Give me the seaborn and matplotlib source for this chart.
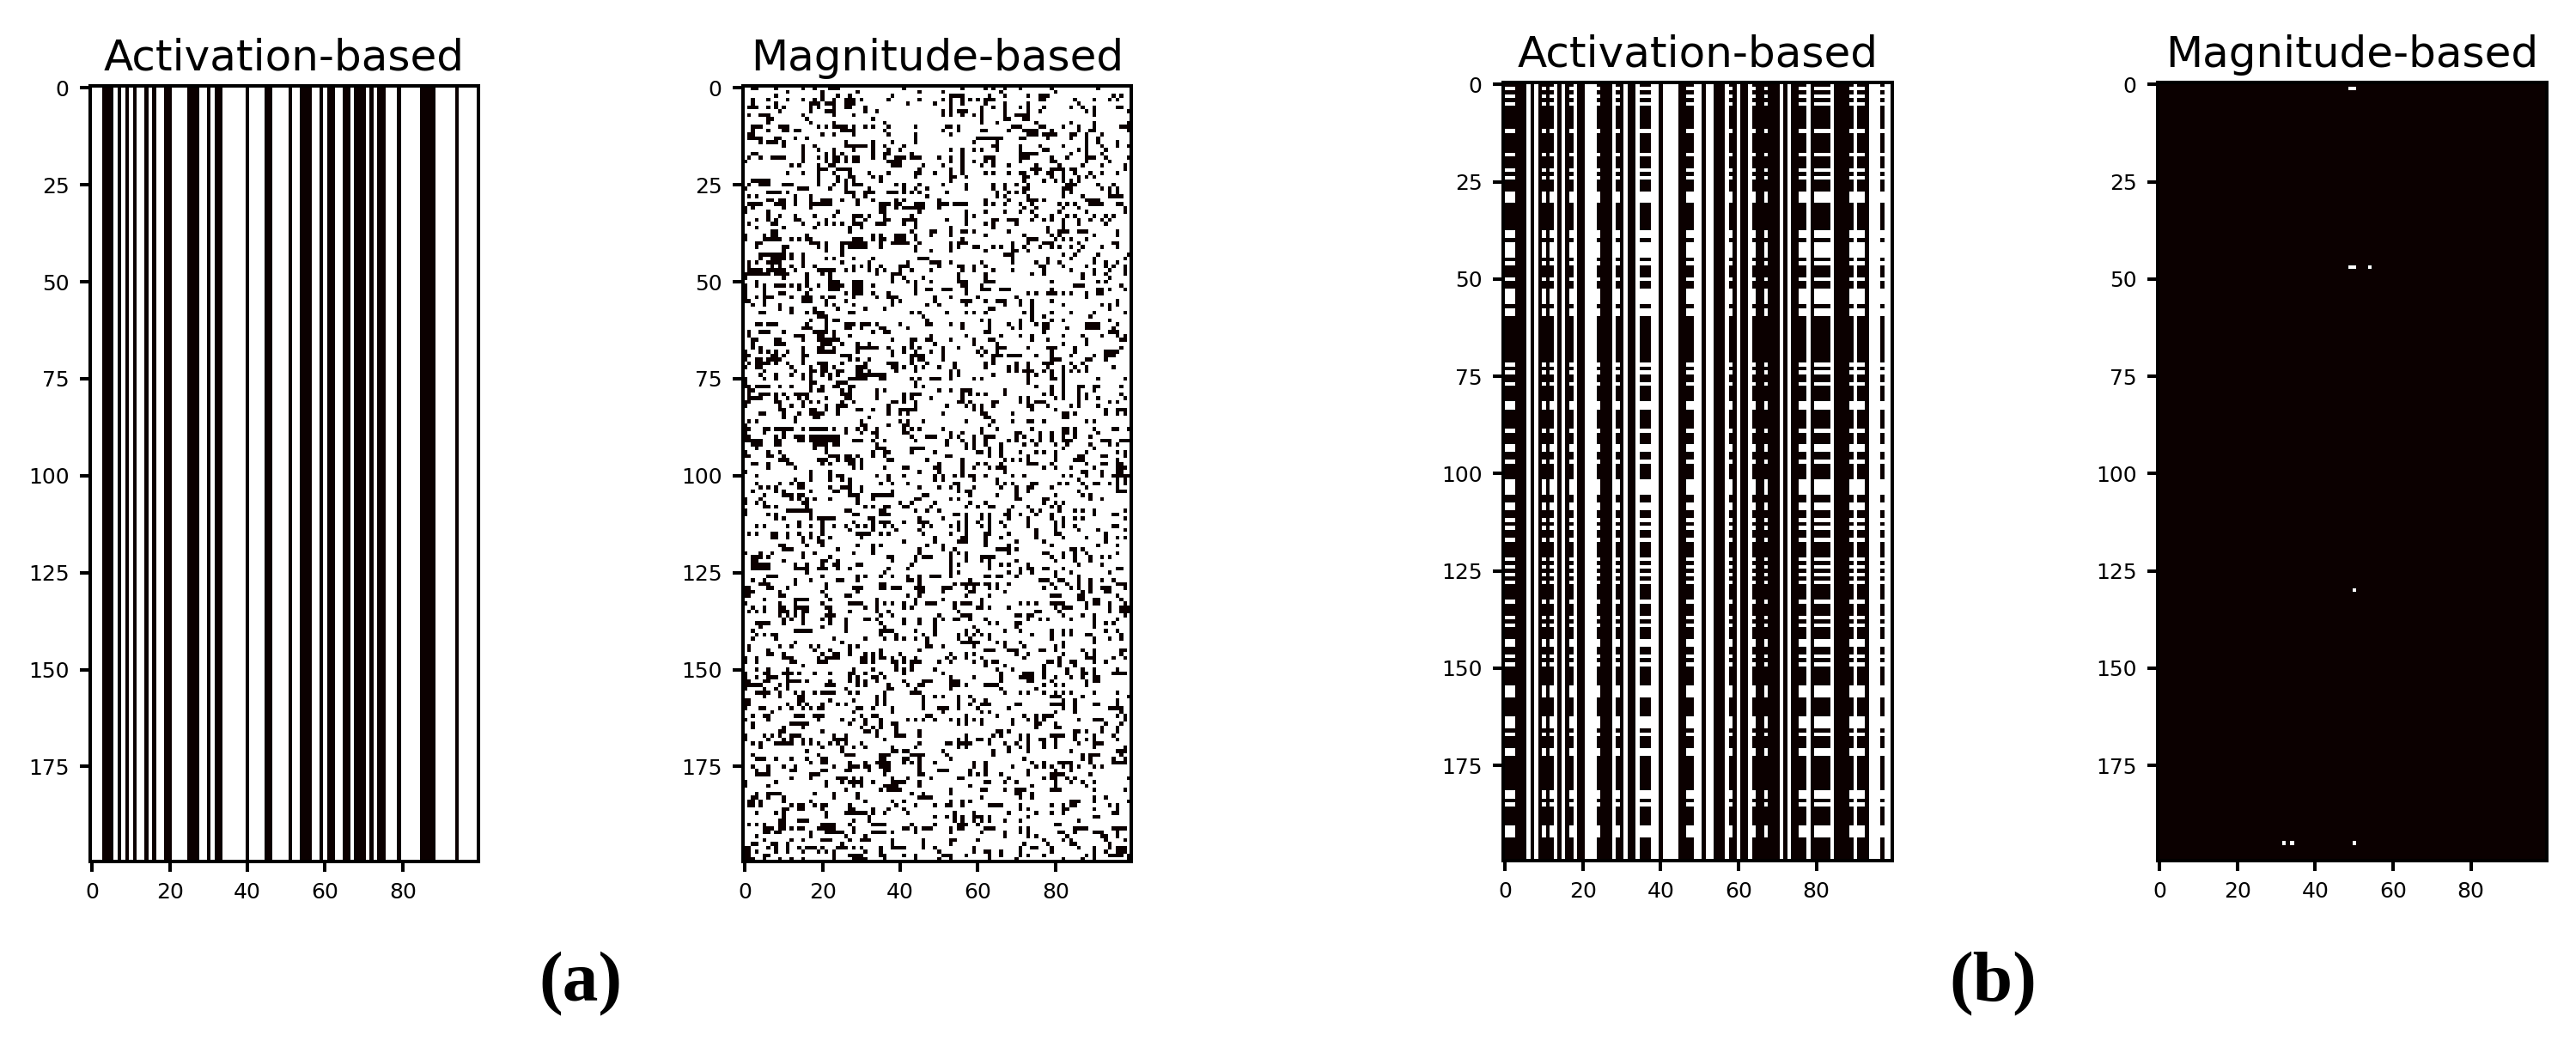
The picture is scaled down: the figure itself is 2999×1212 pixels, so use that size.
import numpy as np
import matplotlib
matplotlib.use('Agg')
import matplotlib.pyplot as plt
import seaborn as sns

n_rows = 200
n_cols = 100
x_ticks = [0, 20, 40, 60, 80]
y_ticks = [0, 25, 50, 75, 100, 125, 150, 175]
titles = ['Activation-based', 'Magnitude-based', 'Activation-based', 'Magnitude-based']
captions = ['a', 'b']

# (a) activation: columns that are dark over the whole height
a_act_dark = [3, 4, 5, 7, 9, 11, 14, 16, 19, 20, 25, 26, 27, 30, 32, 33, 40, 45, 46, 51, 54, 55, 56,
              59, 61, 62, 65, 66, 68, 69, 70, 72, 74, 75, 79, 85, 86, 87, 88, 94]

# (b) activation: columns always white, and columns white only on the listed rows
b_act_white = [6, 8, 13, 15, 18, 21, 22, 23, 28, 31, 34, 38, 39, 41, 42, 43, 44, 49, 50, 52, 53, 57, 60,
               63, 71, 73, 78, 84, 90, 94, 95, 96, 98, 99]
b_act_partial = [0, 1, 2, 10, 12, 17, 24, 29, 35, 36, 37, 47, 48, 58, 64, 67, 76, 77, 80, 81, 82, 83,
                 89, 91, 92, 97]
b_act_rows = [1, 3, 5, 12, 18, 22, 24, 28, 29, 30, 38, 39, 41, 42, 43, 44, 46, 50, 53, 54, 55, 56, 58, 59,
              72, 74, 77, 82, 83, 89, 93, 94, 97, 102, 103, 104, 105, 108, 109, 112, 114, 117, 122, 124,
              126, 128, 133, 137, 139, 143, 144, 147, 149, 155, 156, 157, 163, 164, 165, 167, 171, 172,
              182, 183, 185, 191, 192, 193]

# (b) magnitude: the few white cells as (row, col)
b_mag_white = [(1, 49), (1, 50), (47, 49), (47, 50), (47, 54), (130, 50), (195, 32), (195, 34), (195, 50)]

# (a) magnitude: dark columns of each row, read by eye from the crops (approximate)
a_mag_dark = """2 3 8 15 18 22 23 24 41 56 62 64 67 71 79 91
11 20 29 45 51 66 80
8 20 24 27 38 53 54 55 56 63 67 73 76 77 78 95 97
2 6 11 15 18 20 23 26 27 28 30 37 45 51 53 56 58 60 62 63 64 76 77 85 90 94 96
2 8 17 18 19 21 22 23 26 27 28 42 49 53 56 62 67 73 86
1 2 3 6 8 10 17 19 23 26 27 31 53 61 64 67 71 73 77 84 87 90 96 97
9 17 21 22 23 31 34 51 53 55 56 57 61 67 73 76 88 90 99
1 4 5 6 15 23 28 51 53 56 59 61 67 70 71 72 73 90
6 7 16 33 61 67 68 72 73
6 17 23 36 61 65 75 84 90 99
2 3 4 9 10 11 19 21 23 24 25 26 28 31 33 37 44 52 53 55 69 70 71 76 77 82 86 90 97 98 99
2 6 10 11 13 14 25 26 27 28 36 51 55 61 62 68 72 73 74 75 79 86 89 90 99
1 2 20 23 28 37 44 53 73 74 75 77 78 79 80 84 85 88 92
1 2 3 4 8 9 13 16 44 60 61 62 63 64 65 66 71 72 78 84 88 91
4 6 7 8 10 26 33 38 44 59 65 88 91 96
10 15 18 26 27 28 29 30 31 33 36 41 64 65 71 76 82 88 92 96 99
15 19 23 28 33 37 40 53 56 59 61 65 71 77 78 86 88 93
2 3 15 21 23 25 33 36 37 43 56 71 72 73 74 75 84 88 92
1 4 7 8 9 10 15 19 21 23 24 26 28 29 33 36 39 40 41 43 44 45 50 53 56 62 63 64 71 72 73 79 83 88 89 90 93 99
0 15 21 23 24 26 28 29 37 38 39 40 53 56 59 62 64 71 79 80 88 94
12 14 19 22 23 38 39 40 46 51 56 61 64 68 75 81 87 92 98
19 20 21 24 25 26 27 45 53 56 74 75 76 79 80 81 82 84 85 98
11 15 19 23 27 32 37 44 45 49 53 56 62 64 68 71 72 75 78 79 82 85 89 92 96
19 24 27 28 33 35 44 53 54 57 72 73 79 82 86 88 90
2 3 4 5 6 19 24 26 28 35 53 72 77 80 82 84 86
1 4 5 6 10 11 12 19 23 26 28 29 30 39 41 45 51 57 64 67 70 73 83 84 85 91 95
0 14 15 16 22 26 32 41 44 47 57 64 67 72 73 82 83 84 92 94 96
6 7 8 9 11 26 27 28 31 32 33 37 38 39 41 43 45 52 65 68 70 72 82 84 94 96
1 3 13 17 28 31 47 65 67 73 82 87 94 95 96 97
6 7 9 10 13 17 20 21 22 25 29 33 39 41 50 62 68 73 74 75 77 88 89 90 91
1 2 3 4 8 9 10 13 17 18 19 20 21 22 29 35 36 37 39 40 44 45 46 50 51 52 54 55 56 57 62 64 67 71 74 81 83 85 89 90 91 92 96 97
0 2 10 17 35 36 39 41 42 43 44 45 46 50 72 75 82 86 98
0 6 24 35 36 45 57 62 67 71 74 81 88 98
6 9 13 18 23 28 29 30 32 36 43 57 59 75 79 83 85 90 93 95
3 6 8 13 14 21 28 31 36 37 41 42 43 44 52 57 64 65 68 69 70 74 77 79 82 86 89 92 94
1 7 8 15 19 21 23 25 28 29 30 34 35 36 41 44 57 62 64 70 82 86 93
3 10 18 27 30 44 53 64 78 82
7 8 27 43 48 49 53 56 57 59 68 78 81 82 83 86 87 88 96
0 5 7 8 16 33 35 39 40 41 44 48 53 62 72 79 81 90 96
0 5 6 7 8 9 12 14 16 17 28 29 30 33 35 36 39 40 41 44 56 73 74 75 80 82 84 88
3 4 17 18 19 21 25 26 27 28 29 30 31 35 38 39 40 41 42 45 53 55 56 57 69 73 77 78 79 86 95 96
3 10 11 19 21 25 27 28 29 30 31 35 44 53 55 59 60 64 66 69 72 76 79 81 84 87 92 96
10 21 25 44 48 53 62 69 70 73 86
4 5 6 7 8 9 10 12 15 25 67 68 69 82 85 91 99
4 7 8 9 10 12 15 21 23 28 33 45 46 47 69 78 84 90 98
1 3 6 7 8 9 15 25 32 42 48 49 50 53 61 69 75 78 81 90 93 96
1 7 9 12 15 18 28 30 32 35 40 41 42 50 55 56 59 62 76 77 82 88 93 95 98
1 2 3 4 6 7 8 9 10 13 19 20 21 22 23 26 28 32 34 36 40 43 48 56 59 64 69 77 84 90 94 98
0 1 2 3 4 5 6 8 9 10 11 16 20 22 34 38 39 40 55 62 74 77 87 90 93 98
0 10 16 22 38 41 46 55 62 87 94
3 16 22 23 24 28 29 30 38 42 44 48 55 56 57 62 63 64 79 91 93
0 3 5 8 9 10 12 14 16 19 22 23 24 25 28 29 30 33 44 56 57 61 85 86 87 97
0 5 14 17 22 23 24 28 29 30 44 47 48 51 52 53 57 61 62 63 66 67 68 79 91 92 94 98
0 5 9 10 16 26 28 29 30 33 37 44 57 73 75 78 79 80 82 84 88 91 92
0 3 5 6 7 12 15 16 17 20 22 23 28 34 37 38 39 49 53 60 70 88
0 1 5 15 16 17 21 26 38 40 49 56 57 58 62 65 66 67 71 74 79 96
2 5 9 21 23 28 38 47 50 57 67 71 74 82 92 94 96
9 12 18 24 31 36 63 64 74 94
4 5 12 16 18 19 20 27 28 43 45 52 57 59 62 72 74 79 84 90 98
19 20 21 46 74 77 89
17 21 23 24 47 61 63 71 74 79 82 94
3 4 6 7 8 16 21 26 27 28 30 31 32 34 40 47 48 53 56 63 68 71 75 77 78 88 89 90 91 96
15 16 17 21 26 27 30 35 36 42 56 63 69 71 77 78 83 88 89 90 91 95
1 4 5 6 10 18 19 20 21 23 33 36 37 62 63 77 94 95 96
1 13 14 15 19 20 23 27 48 57 66 71 74 82 87 92 96 98
2 3 8 9 15 19 20 21 22 23 24 38 43 44 47 48 53 59 63 64 74 78 88 97 98
2 8 9 10 20 21 22 25 29 32 43 49 59 65 82 88
2 4 15 19 20 23 29 30 31 32 33 34 37 41 43 45 51 55 61 65 66 67 73 78 79 80 85 97
0 4 6 8 11 15 19 20 21 22 23 29 38 41 44 48 51 60 62 65 79 85 93 94 95 96
0 1 7 8 10 15 16 25 26 27 38 43 44 45 46 51 61 64 65 66 68 69 70 71 75 79 84 90 93 94 95
0 3 4 6 7 8 9 15 27 29 32 43 45 46 51 64 79 80 81 88 89 93
1 3 4 5 6 8 11 15 19 20 21 25 31 37 38 39 43 47 54 62 64 70 73 77 78 79 84 87
0 3 4 12 17 20 21 23 29 30 31 38 39 41 44 46 50 54 62 68 70 73 78 82 85 88 95
5 13 17 18 20 21 24 25 29 30 32 39 44 53 55 68 70 72 73 74 77 79 82 84 86 88
4 8 12 15 17 20 22 24 29 30 31 32 33 34 35 36 53 55 64 73 75 79 82
0 5 8 15 17 22 27 28 29 30 31 35 36 43 45 48 49 50 53 59 61 73 79 80 82 91 98
0 17 18 24 25 26 44 73 82
0 1 3 4 5 6 9 12 17 20 23 24 27 28 44 46 75 79 82 86 87 90 91 97
1 2 17 19 20 25 27 34 36 50 53 56 57 58 67 79 82 86 90
1 4 5 6 8 10 13 14 15 16 25 26 27 34 41 43 44 45 56 58 60 62 67 77 79 82 86 88 97
1 2 3 4 8 11 14 16 21 26 27 34 41 43 48 56 71 73 80 82 86 88 91 98
0 1 8 9 15 17 19 25 28 38 39 41 44 55 56 58 64 65 71 73 75 76 77 86 94 96
0 9 12 15 21 24 25 26 37 44 52 57 59 61 64 73 74 78 84 86 91
9 10 17 18 21 24 29 30 33 37 40 41 42 43 44 59 61 74 80 93 96 97 98
4 5 10 14 17 18 19 20 24 37 40 42 51 61 62 69 82 83 85 93 96 98
10 13 18 19 32 62 63 82 83
1 3 13 30 40 42 46 57 64 69 73 74 77 88 90
0 30 31 37 41 42 63
0 1 5 6 8 9 10 11 12 15 17 18 19 20 21 23 26 29 31 34 41 43 45 51 61 65 74 82 83 85 90 95 96 99
0 5 10 26 30 33 34 41 42 53 56 61 70 71 76 79 82 83 85 91
0 1 8 10 13 14 15 17 18 19 20 21 22 23 24 34 43 47 48 49 53 55 59 62 63 64 70 72 76 79 82 85 89
0 1 2 3 4 8 9 14 15 17 18 19 20 21 22 23 24 28 29 30 33 36 44 52 56 59 62 68 70 74 76 79 82 83 84 92 93 94 97 98 99
2 3 4 8 9 18 19 20 21 23 24 34 52 57 59 62 66 72 75 80 83 89 94 96
3 18 21 34 35 36 43 44 45 46 57 59 63 66 82 90
0 6 9 21 33 36 37 43 49 60 61 63 66 71 75 77 80 88 96 98
0 1 6 7 10 22 23 24 26 27 29 33 36 52 53 63 66 73 80 86 87 92 93 98
9 10 11 19 20 21 24 26 27 28 30 37 38 47 56 67 69 71 73 80 85 86 87 96
2 3 6 11 12 20 22 27 28 30 50 56 60 62 66 73 74 75 79 88 92 93 96 97
6 13 28 30 36 41 42 49 50 56 59 63 65 66 67 77 80 84 90 96 97 98
0 17 22 45 50 56 67 87 88 92 96 97
3 17 22 24 25 34 37 41 49 51 54 56 58 59 62 69 72 82 84 88 92 95 96 97 98 99
13 17 22 25 27 37 49 51 59 65 86 96 98
3 9 12 14 15 27 35 38 42 54 55 65 67 69 74 75 81 83 87 90 91 94 96 98
4 6 8 14 15 22 25 26 27 30 45 50 53 55 59 66 70 73 74 79 88 96
2 8 10 17 23 24 27 30 38 55 57 58 70 73 86 96 97 98
5 10 11 12 14 15 27 28 29 33 34 35 36 37 38 46 47 58 65 70 80 87 89
0 4 12 14 16 18 22 29 33 44 45 53 55 70 71 77 78 89 92
0 3 5 15 16 29 40 43 49 58 62 77 80 82
5 6 8 16 31 33 36 37 41 42 48 57 60 63 64 69 73 79 81
0 11 12 13 14 15 16 17 26 27 35 36 44 47 50 68 74 76 81 85 87 90 98
0 6 8 17 28 29 35 36 37 54 55 57 61 63 67 68 71 75 79 90 95 96
8 10 17 19 20 21 22 23 32 33 45 51 57 61 63 68 73 79 82 85 87 98
14 20 28 33 35 36 37 41 45 46 47 55 57 60 63 66 73 80 82
3 5 11 14 17 20 23 26 29 31 33 36 38 46 48 53 55 57 61 63 67 73 80 82 85 95 96
20 27 33 39 45 55 57 63 75 80 86 91 98
1 3 7 8 11 14 17 20 29 30 31 32 35 37 46 53 57 62 63 68 75 80 81 93
7 8 11 15 17 19 22 30 49 56 57 62 66 75 82 88 93 96 98
15 19 20 41 49 55 56 57 62 70 77 93
9 10 16 20 29 33 35 47 51 62 68 79 91 96
10 11 12 24 33 45 51 54 65 66 67 68 70 84 85 87
0 4 7 15 18 28 33 45 53 55 57 68 77 78 82 85 88 96
2 3 4 6 15 22 37 38 44 46 47 48 53 57 61 62 63 64 79 82 85 89 92 94
2 3 10 20 21 24 38 44 53 57 61 63 70 80 85 89
2 3 4 5 6 13 16 20 23 24 29 30 43 53 55 63 66 68 73 86 92
2 3 4 5 6 13 14 15 16 19 20 21 24 27 37 42 53 63 71 73 74 77 78 82 96 97
16 36 53 55 68 71 74 80 84 94
6 7 8 20 29 31 35 38 42 45 48 49 50 53 62 63 65 66 70 80 86
2 5 13 17 24 25 29 42 43 45 58 76 77 78 81 82 86 89 92 95
4 5 6 13 21 35 36 45 54 56 57 58 59 60 62 63 65 68 79 83 86 89 96 97 98
0 1 6 7 11 21 28 29 30 35 36 38 39 40 44 45 46 51 52 53 57 59 63 65 77 80 84 86 89 92 93 94 98
0 1 2 9 20 29 45 46 51 58 59 67 87 89 93 94
0 1 9 10 21 26 27 42 45 57 63 79 80 81 86 87 96
5 13 14 15 16 22 34 44 51 61 86 87 90 91 97
0 9 13 20 27 28 29 30 34 36 38 41 44 47 48 49 54 56 57 58 61 71 73 75 79 80 81 82 88 90 91 94 98
2 5 9 10 13 14 15 16 21 22 31 34 41 43 54 60 61 63 68 80 82 83 84 88 94 97 98 99
1 3 5 9 10 11 13 15 16 22 27 34 37 55 75 76 81 94 97 98 99
9 11 13 15 21 22 23 35 38 50 56 57 58 70 71 73 74 82 87 90 98
10 12 15 20 22 26 31 32 34 41 45 49 51 54 55 58 62 73 76 78 84 90 96
3 4 5 6 10 15 22 26 35 41 45 49 63 65 70 71 90 93 95
4 20 26 36 49 59 70 90
2 13 14 15 16 17 26 35 36 37 38 44 49 57 60 67 71 79 82 84 93 96
3 5 7 8 35 39 46 49 55 57 59 61 63 74 79 82 84 88 89 97
2 8 23 31 36 39 41 44 47 55 58 63 79 90 94 97
13 25 47 56 57 58 59 60 65 67 71 82 90
1 9 12 17 19 27 29 47 48 51 59 67 72 80 82
1 6 18 22 27 35 45 62 63 64 68 69 70 76 77 80 87 90 97 98
6 7 10 20 23 24 27 31 33 35 40 53 57 59 70 73 82 88 90 97
0 3 10 11 12 19 21 22 23 24 30 31 33 35 36 38 41 44 52 54 57 61 72 81 88 89 90 95 98
0 3 12 13 19 20 21 30 31 33 38 39 41 43 44 45 50 53 59 62 64 65 78 79 81 84 85 90 93
15 39 43 62 67 77 81 85
3 6 11 28 33 39 41 43 49 65 69 77 83 87 90 96
0 5 6 10 11 12 14 18 22 27 28 31 35 41 51 66 72 73 74 77 83 87 88 90 95 96 97 98
0 3 6 7 8 11 27 29 33 34 36 53 59 66 71 72 73 74 77 80 84 87 90 91
0 1 5 6 11 12 13 14 16 22 27 29 31 34 41 46 47 48 53 54 55 66 73 74 79 88 90 91
0 1 2 3 4 9 11 21 22 23 29 31 37 42 45 46 53 54 55 57 62 63 64 65 77 80 82 88
0 5 8 11 26 37 38 44 53 66 75
3 4 5 6 9 13 15 18 20 21 22 23 27 29 36 43 44 45 67 71 73 77 80 82 84 90 96
5 9 14 15 34 36 46 49 51 55 58 79 80 81 87 99
0 1 14 15 22 28 34 36 46 55 59 62 82 85 96
0 1 11 14 16 20 24 26 34 36 46 55 58 61 62 63 70 71 79 80 81 82 85 90 91 96
0 4 5 9 12 15 17 19 20 29 30 33 38 46 50 51 52 55 60 68 82 85 94 95 96 97
7 28 38 51 61 63 80 85 97
2 5 6 13 14 15 18 19 20 30 33 34 47 48 57 65 72 75 77 78 79 96 98
0 6 19 25 28 31 35 42 44 46 49 53 55 57 59 61 69 73 75 77 86 90 91 92 98
2 12 13 14 15 16 27 31 35 38 39 55 57 61 69 75 76 80 93 97
2 10 15 30 33 35 39 75 80 81 92 96
9 10 20 31 32 34 39 45 65 66 68 85 86 88 92 96
0 5 7 9 12 13 14 23 26 34 39 40 41 45 57 64 66 71 73 79 80 81 82 85 90 95
0 6 10 12 15 17 23 24 25 26 36 55 57 60 61 63 71 73 76 77 80 85 88 90 96
2 4 8 9 10 11 12 15 17 19 22 24 26 30 45 52 53 55 56 57 58 63 67 70 73 77 80 86 90 91 92
4 20 25 28 31 38 44 55 57 68 71 73 77 80 90 98
16 25 38 39 41 42 51 64 68 73 84 96 97 98
2 19 26 27 28 35 36 37 43 44 45 46 52 64 87 89 90 91 97
3 4 5 8 12 16 20 21 35 36 41 42 45 53 72 87 89 95 98
17 20 21 27 31 34 35 36 37 41 43 45 49 59 62 74 77 81 82 83 84 89 95 96 97 98
2 6 10 13 23 27 28 29 31 32 35 36 37 45 59 62 69 75 77 79 82 84 86 90 92
3 6 12 13 20 21 26 27 32 36 37 45 50 51 52 58 62 73 80 84
3 4 5 6 17 18 19 36 45 46 58 60 62 66 73 79 80 81 82 89
12 17 24 25 26 28 30 38 42 48 55 56 68 77 79 80 83 85 99
0 8 21 25 27 28 29 30 33 38 39 40 41 45 62 63 67 70 80 84 87 90
0 6 21 28 30 36 37 38 39 45 58 74 80 88
26 35 37 38 39 40 53 61 62 67 70 71 72 79 80 81 90 98
3 6 7 8 9 18 23 29 43 46 53 70 71 74
2 3 6 10 23 29 45 46 47 48 61 71 74 90 93
1 2 4 10 17 31 38 41 53 56 58 84 85 86 90 99
1 2 4 12 14 15 18 20 21 27 39 44 49 52 53 56 63 64 65 66 71 79 82 84 85 94 96
10 11 14 15 20 27 28 33 37 41 71 73 82 83 90 96
3 8 10 21 26 27 28 29 30 31 33 36 42 54 59 68 75 79 82 95 96
10 21 32 49 52 54 56 59 60 61 63 73 90 91
9 10 14 15 16 28 32 54 56 59 61 63 67 71 86
1 3 5 9 10 20 21 22 23 27 33 34 35 36 43 49 55 56 57 60 80 81
5 6 7 9 10 12 14 15 19 20 21 22 23 28 41 42 44 46 47 48 53 55 56 62 63 64 71 73 85 86 87 88 95 96 97 98
5 6 8 9 17 21 22 23 24 25 28 33 34 35 36 38 44 53 61 67 71 73 81 82 85 90 91 92 96
3 17 26 31 67 73 75 83 92 93 96
5 12 15 20 21 22 27 30 31 32 38 46 53 54 60 77 82 84 93 98
2 3 7 8 11 25 38 46 53 72 78 84 85 94
0 1 6 8 11 14 16 17 18 20 24 25 26 28 30 35 38 39 40 41 46 49 59 71 74 75 79 86 90 94 96 97 98
0 1 3 8 11 15 19 21 23 31 35 50 59 62 63 66 71 79 90 93 96 97 98
0 1 5 6 23 27 28 29 30 35 36 41 44 51 52 53 57 63 66 71 73 77 88 90 94 95 96 97 99
0 1 2 5 9 12 15 23 28 29 30 31 36 44 50 53 63 70 82 87 90 99""".split('\n')

# build the four 0/1 matrices (0 is dark, 1 is white)
a_act = np.ones((n_rows, n_cols))
a_act[:, a_act_dark] = 0

a_mag = np.ones((n_rows, n_cols))
for r, line in enumerate(a_mag_dark):
    a_mag[r, [int(c) for c in line.split()]] = 0

b_act = np.zeros((n_rows, n_cols))
b_act[:, b_act_white] = 1
b_act[np.ix_(b_act_rows, b_act_partial)] = 1

b_mag = np.zeros((n_rows, n_cols))
for r, c in b_mag_white:
    b_mag[r, c] = 1

W, H = 2999, 1212
fig = plt.figure(figsize=(W / 100, H / 100), dpi=100)

# axes boxes in pixels: left, right, top, bottom
boxes = [(105, 557, 100, 1003), (865, 1317, 100, 1003), (1750, 2203, 96, 1002), (2512, 2965, 96, 1002)]
panels = [a_act, a_mag, b_act, b_mag]

for data, title, (l, r, t, b) in zip(panels, titles, boxes):
    ax = fig.add_axes([l / W, 1 - b / H, (r - l) / W, (b - t) / H])
    sns.heatmap(data, cmap='hot', vmin=0, vmax=1, cbar=False, ax=ax,
                xticklabels=False, yticklabels=False, rasterized=True)
    ax.set_xticks(np.array(x_ticks) + 0.5, [str(v) for v in x_ticks])
    ax.set_yticks(np.array(y_ticks) + 0.5, [str(v) for v in y_ticks])
    ax.tick_params(length=8.6, width=2.9, labelsize=18, pad=9, labelrotation=0, color='black')
    for spine in ax.spines.values():
        spine.set_visible(True)
        spine.set_linewidth(2.9)
        spine.set_color('black')
    ax.set_title(title, fontsize=36, pad=13)

for cap, x in zip(captions, [676, 2320]):
    fig.text(x / W, 1 - 1146 / H, '(' + cap + ')', fontsize=60, fontweight='bold',
             family='Liberation Serif', ha='center', va='center')

fig.savefig('out.png', dpi=100)
